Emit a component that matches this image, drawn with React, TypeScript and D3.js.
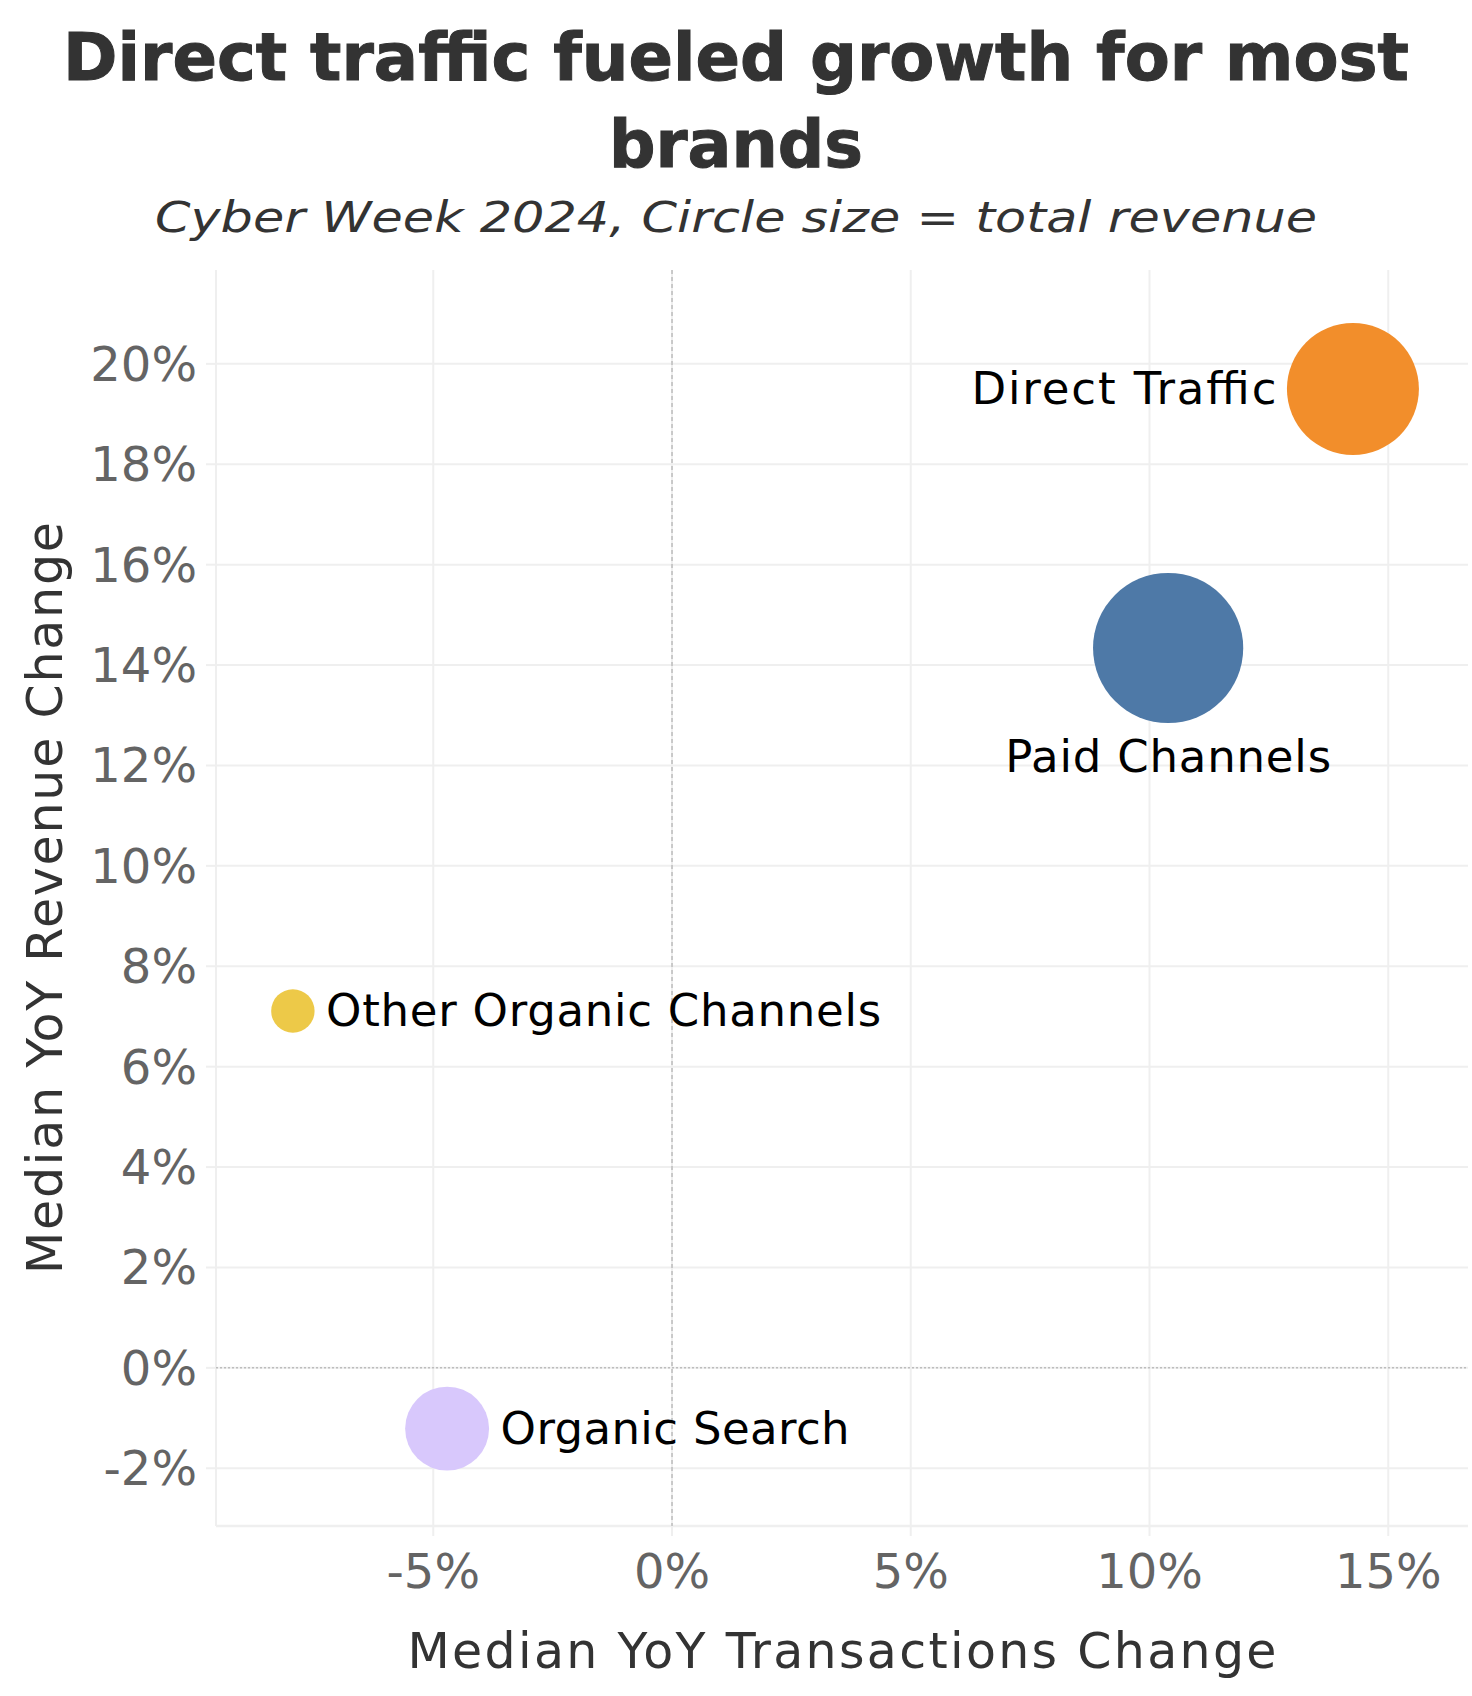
import React from "react";
import * as d3 from "d3";

// ---- data ----
const channels = ["Direct Traffic", "Paid Channels", "Other Organic Channels", "Organic Search"];
const txChange = [14.26, 10.39, -7.94, -4.71]; // Median YoY Transactions Change (%)
const revChange = [19.5, 14.34, 7.11, -1.21]; // Median YoY Revenue Change (%)
const totalRevenue = [35.6, 46.1, 3.85, 14.4]; // relative circle size (share of total revenue)
const colors = ["#F28E2B", "#4E79A7", "#EDC948", "#D8C8FC"];
const xTicks = [-5, 0, 5, 10, 15];
const yTicks = [-2, 0, 2, 4, 6, 8, 10, 12, 14, 16, 18, 20];

// ---- layout ----
const labelSide = ["left", "below", "right", "right"];
const labelWidth = [305, 326, 555, 349];

const W = 1472;
const H = 1696;
const plot = { left: 216, right: 1468, top: 270, bottom: 1526 };

const FONT = "'DejaVu Sans', sans-serif";

export default function App() {
  const x = d3.scaleLinear().domain([-9.55, 16.67]).range([plot.left, plot.right]);
  const y = d3.scaleLinear().domain([-3.15, 21.87]).range([plot.bottom, plot.top]);
  const r = d3.scaleSqrt().domain([0, d3.max(totalRevenue) as number]).range([0, 75.1]);
  const pct = (v: number) => `${v}%`;
  const grid = "#efefef";

  return (
    <svg
      width={W}
      height={H}
      viewBox={`0 0 ${W} ${H}`}
      style={{ position: "absolute", left: 0, top: 0, display: "block", background: "#fff" }}
    >
      <rect x={0} y={0} width={W} height={H} fill="#fff" />
      {/* title */}
      <text
        x={W / 2}
        y={80}
        textAnchor="middle"
        fontFamily={FONT}
        fontWeight={700}
        fontSize={65}
        fill="#333333"
        textLength={1346}
        lengthAdjust="spacingAndGlyphs"
        stroke="#333333"
        strokeWidth={1}
      >
        Direct traffic fueled growth for most
      </text>
      <text
        x={W / 2}
        y={166.7}
        textAnchor="middle"
        fontFamily={FONT}
        fontWeight={700}
        fontSize={65}
        fill="#333333"
        stroke="#333333"
        strokeWidth={1}
      >
        brands
      </text>
      <text
        x={W / 2}
        y={231.7}
        textAnchor="middle"
        fontFamily={FONT}
        fontStyle="italic"
        fontSize={42}
        fill="#333333"
        textLength={1162}
        lengthAdjust="spacingAndGlyphs"
      >
        Cyber Week 2024, Circle size = total revenue
      </text>

      {/* grid */}
      <g>
        {yTicks.map((t) => (
          <line key={"gy" + t} x1={plot.left} x2={plot.right} y1={y(t)} y2={y(t)} stroke={grid} strokeWidth={2} />
        ))}
        {xTicks.map((t) => (
          <line key={"gx" + t} x1={x(t)} x2={x(t)} y1={plot.top} y2={plot.bottom} stroke={grid} strokeWidth={2} />
        ))}
        <line x1={plot.left} x2={plot.left} y1={plot.top} y2={plot.bottom} stroke={grid} strokeWidth={2} />
        <line x1={plot.left} x2={plot.right} y1={plot.bottom} y2={plot.bottom} stroke={grid} strokeWidth={2.5} />
        {yTicks.map((t) => (
          <line key={"ty" + t} x1={plot.left - 10} x2={plot.left} y1={y(t)} y2={y(t)} stroke={grid} strokeWidth={2} />
        ))}
        {xTicks.map((t) => (
          <line key={"tx" + t} x1={x(t)} x2={x(t)} y1={plot.bottom} y2={plot.bottom + 10} stroke={grid} strokeWidth={2} />
        ))}
      </g>

      {/* zero reference lines */}
      <line x1={x(0)} x2={x(0)} y1={plot.top} y2={plot.bottom} stroke="#bdbdbd" strokeWidth={1.5} strokeDasharray="4,3" />
      <line x1={plot.left} x2={plot.right} y1={y(0)} y2={y(0)} stroke="#bdbdbd" strokeWidth={1.5} strokeDasharray="2,2" />

      {/* tick labels */}
      {yTicks.map((t) => (
        <text key={"ly" + t} x={197} y={y(t) + 17} textAnchor="end" fontFamily={FONT} fontSize={48} fill="#646464">
          {pct(t)}
        </text>
      ))}
      {xTicks.map((t) => (
        <text key={"lx" + t} x={x(t)} y={1588} textAnchor="middle" fontFamily={FONT} fontSize={48} fill="#646464">
          {pct(t)}
        </text>
      ))}

      {/* axis titles */}
      <text
        x={(plot.left + plot.right) / 2}
        y={1668}
        textAnchor="middle"
        fontFamily={FONT}
        fontSize={49}
        fill="#333333"
        textLength={869}
      >
        Median YoY Transactions Change
      </text>
      <text
        transform={`translate(62, ${(plot.top + plot.bottom) / 2}) rotate(-90)`}
        textAnchor="middle"
        fontFamily={FONT}
        fontSize={49}
        fill="#333333"
        textLength={752}
      >
        Median YoY Revenue Change
      </text>

      {/* bubbles */}
      {channels.map((c, i) => (
        <circle key={c} cx={x(txChange[i])} cy={y(revChange[i])} r={r(totalRevenue[i])} fill={colors[i]} />
      ))}

      {/* labels */}
      {channels.map((c, i) => {
        const cx = x(txChange[i]);
        const cy = y(revChange[i]);
        const rr = r(totalRevenue[i]);
        const side = labelSide[i];
        let lx = cx;
        let ly = cy + 15;
        let anchor: "start" | "middle" | "end" = "middle";
        if (side === "left") {
          lx = cx - rr - 10.5;
          anchor = "end";
        } else if (side === "right") {
          lx = cx + rr + 11.5;
          anchor = "start";
        } else {
          ly = cy + rr + 48.7;
        }
        return (
          <text
            key={"lab" + c}
            x={lx}
            y={ly}
            textAnchor={anchor}
            fontFamily={FONT}
            fontSize={45}
            fill="#000000"
            textLength={labelWidth[i]}
          >
            {c}
          </text>
        );
      })}
    </svg>
  );
}
